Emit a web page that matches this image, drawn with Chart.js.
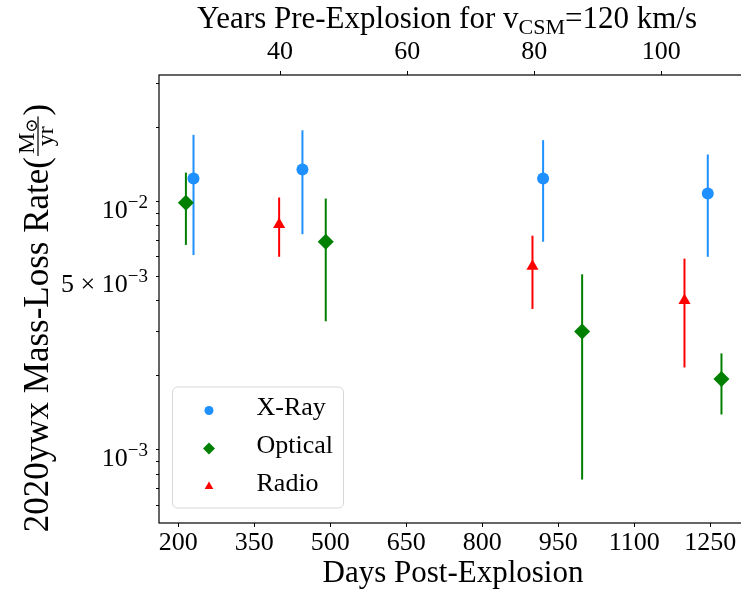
<!DOCTYPE html>
<html>
<head>
<meta charset="utf-8">
<script src="https://cdn.jsdelivr.net/npm/chart.js@4.4.1/dist/chart.umd.min.js"></script>
<style>
  html, body { margin: 0; padding: 0; background: #fff; overflow: hidden; }
  #wrap { width: 741px; height: 593px; overflow: hidden; }
</style>
</head>
<body>
<div id="wrap"><canvas id="massLoss" width="760" height="593"></canvas></div>
<script>
// 2020ywx mass-loss rate estimates (Msun/yr) with error-bar ends
const xrayDays = [230, 445, 920, 1245];
const xrayRate = [0.0124, 0.0135, 0.0124, 0.0108];
const xrayLow = [0.0061, 0.0074, 0.0069, 0.0060];
const xrayHigh = [0.0186, 0.0194, 0.0177, 0.0155];

const opticalDays = [215, 491, 997, 1272];
const opticalRate = [0.0099, 0.0069, 0.0030, 0.00193];
const opticalLow = [0.0067, 0.0033, 0.00076, 0.00139];
const opticalHigh = [0.0131, 0.0103, 0.0051, 0.00245];

const radioDays = [399, 899, 1199];
const radioRate = [0.0081, 0.0055, 0.0040];
const radioLow = [0.0060, 0.0037, 0.00215];
const radioHigh = [0.0104, 0.0073, 0.0059];

const dayTicks = [200, 350, 500, 650, 800, 950, 1100, 1250];
const yearTicks = [40, 60, 80, 100];
const rateTicks = [0.0006, 0.0007, 0.0008, 0.0009, 0.001, 0.002, 0.003, 0.004, 0.005,
  0.006, 0.007, 0.008, 0.009, 0.01, 0.02, 0.03];
const rateLabels = [[0.01, '10', '\u22122'], [0.005, '5 \u00d7 10', '\u22123'], [0.001, '10', '\u22123']];

const serif = "'Liberation Serif', 'DejaVu Serif', serif";

function points(days, rate, low, high) {
  return days.map((d, i) => ({ x: d, y: rate[i], yMin: low[i], yMax: high[i] }));
}

// vertical error bars, under the markers
const errorBars = {
  id: "errorBars",
  beforeDatasetsDraw(chart) {
    const { ctx, scales: { x, y } } = chart;
    ctx.save();
    ctx.lineWidth = 2;
    chart.data.datasets.forEach((ds) => {
      ctx.strokeStyle = ds.backgroundColor;
      ds.data.forEach((p) => {
        const px = x.getPixelForValue(p.x);
        ctx.beginPath();
        ctx.moveTo(px, y.getPixelForValue(p.yMax));
        ctx.lineTo(px, y.getPixelForValue(p.yMin));
        ctx.stroke();
      });
    });
    ctx.restore();
  },
};

// frame, log tick labels, titles with sub/superscripts, legend box
const decorations = {
  id: "decorations",
  afterDraw(chart) {
    const { ctx, chartArea, scales: { y } } = chart;
    ctx.save();
    ctx.strokeStyle = "#000";
    ctx.lineWidth = 1.2;
    ctx.strokeRect(chartArea.left, chartArea.top, chartArea.right - chartArea.left, chartArea.bottom - chartArea.top);

    ctx.fillStyle = "#000";
    ctx.textBaseline = "alphabetic";
    ctx.textAlign = "left";

    // y tick labels like 10^-2
    rateLabels.forEach(([v, base, exp]) => {
      const py = y.getPixelForValue(v);
      ctx.font = `19px ${serif}`;
      const we = ctx.measureText(exp).width;
      ctx.font = `26px ${serif}`;
      const wb = ctx.measureText(base).width;
      const right = chartArea.left - 11;
      ctx.fillText(base, right - we - wb, py + 16);
      ctx.font = `19px ${serif}`;
      ctx.fillText(exp, right - we, py + 6);
    });

    // top title
    const parts = [["Years Pre-Explosion for v", 31, 0], ["CSM", 22, 6], ["=120 km/s", 31, 0]];
    let total = 0;
    parts.forEach((p) => { ctx.font = `${p[1]}px ${serif}`; total += ctx.measureText(p[0]).width; });
    let tx = (chartArea.left + chartArea.right) / 2 - 6 - total / 2;
    parts.forEach((p) => {
      ctx.font = `${p[1]}px ${serif}`;
      ctx.fillText(p[0], tx, 28 + p[2]);
      tx += ctx.measureText(p[0]).width;
    });

    // y title with fraction Msun / yr
    const big = 35, small = 24;
    ctx.font = `${big}px ${serif}`;
    const lead = "2020ywx Mass-Loss Rate(";
    const wLead = ctx.measureText(lead).width;
    const wClose = ctx.measureText(")").width;
    ctx.font = `${small}px ${serif}`;
    const wM = ctx.measureText("M").width;
    const wYr = ctx.measureText("yr").width;
    ctx.font = `${Math.round(small * 0.7)}px ${serif}`;
    const wSun = ctx.measureText("\u2299").width;
    const wFrac = Math.max(wM + wSun, wYr) + 6;
    const all = wLead + wFrac + wClose;
    ctx.translate(48, 318);
    ctx.rotate(-Math.PI / 2);
    let x = -all / 2;
    ctx.font = `${big}px ${serif}`;
    ctx.fillText(lead, x, 0);
    x += wLead;
    const axisY = -10;
    ctx.fillRect(x + 1, axisY - 0.6, wFrac - 2, 1.2);
    const numX = x + (wFrac - wM - wSun) / 2;
    ctx.font = `${small}px ${serif}`;
    ctx.fillText("M", numX, axisY - 4);
    ctx.font = `${Math.round(small * 0.7)}px ${serif}`;
    ctx.fillText("\u2299", numX + wM, axisY - 1);
    ctx.font = `${small}px ${serif}`;
    ctx.fillText("yr", x + (wFrac - wYr) / 2, axisY + 15);
    x += wFrac;
    ctx.font = `${big}px ${serif}`;
    ctx.fillText(")", x, 0);
    ctx.restore();

    // legend
    ctx.save();
    const lx = chartArea.left + 13.5, lw = 171, lh = 121;
    const ly = chartArea.bottom - 15 - lh;
    ctx.beginPath();
    ctx.roundRect(lx, ly, lw, lh, 5);
    ctx.fillStyle = "rgba(255,255,255,0.8)";
    ctx.fill();
    ctx.strokeStyle = "#d6d6d6";
    ctx.lineWidth = 1;
    ctx.stroke();
    const sizes = [4.5, 6, 5];
    chart.data.datasets.forEach((ds, i) => {
      const rowY = ly + 23.5 + i * 38;
      ctx.fillStyle = ds.backgroundColor;
      Chart.helpers.drawPoint(ctx, { pointStyle: ds.pointStyle, radius: sizes[i], rotation: 0, borderWidth: 0 }, lx + 36.5, rowY);
      ctx.fillStyle = "#000";
      ctx.font = `26px ${serif}`;
      ctx.textBaseline = "middle";
      ctx.textAlign = "left";
      ctx.fillText(ds.label, lx + 84, rowY - 2);
    });
    ctx.restore();
  },
};

new Chart(document.getElementById("massLoss"), {
  type: "scatter",
  data: {
    datasets: [
      {
        label: "X-Ray",
        data: points(xrayDays, xrayRate, xrayLow, xrayHigh),
        backgroundColor: "#1E90FF",
        borderColor: "#1E90FF",
        pointStyle: "circle",
        pointRadius: 6,
        pointBorderWidth: 0,
      },
      {
        label: "Optical",
        data: points(opticalDays, opticalRate, opticalLow, opticalHigh),
        backgroundColor: "#008000",
        borderColor: "#008000",
        pointStyle: "rectRot",
        pointRadius: 8,
        pointBorderWidth: 0,
      },
      {
        label: "Radio",
        data: points(radioDays, radioRate, radioLow, radioHigh),
        backgroundColor: "#FF0000",
        borderColor: "#FF0000",
        pointStyle: "triangle",
        pointRadius: 7,
        pointBorderWidth: 0,
      },
    ],
  },
  options: {
    responsive: false,
    animation: false,
    devicePixelRatio: 1,
    layout: { padding: { left: 0, right: 13, top: 0, bottom: 0 } },
    plugins: { legend: { display: false }, tooltip: { enabled: false } },
    scales: {
      x: {
        type: "linear",
        position: "bottom",
        min: 161.9,
        max: 1322.4,
        afterBuildTicks: (s) => { s.ticks = dayTicks.map((v) => ({ value: v })); },
        afterFit: (s) => { s.height = 70; },
        ticks: {
          font: { family: serif, size: 26 },
          color: "#000",
          padding: 1,
          maxRotation: 0,
          autoSkip: false,
          callback: (v) => String(v),
        },
        grid: { drawOnChartArea: false, tickLength: 4, tickColor: "#000", tickWidth: 1 },
        border: { display: false },
        title: { display: true, text: "Days Post-Explosion", color: "#000", font: { family: serif, size: 31 }, padding: { top: 0, bottom: 1 } },
      },
      x2: {
        type: "linear",
        position: "top",
        min: 20.94,
        max: 113.5,
        afterBuildTicks: (s) => { s.ticks = yearTicks.map((v) => ({ value: v })); },
        afterFit: (s) => { s.height = 75; },
        ticks: {
          font: { family: serif, size: 26 },
          color: "#000",
          padding: 3,
          maxRotation: 0,
          autoSkip: false,
          callback: (v) => String(v),
        },
        grid: { drawOnChartArea: false, tickLength: 4, tickColor: "#000", tickWidth: 1 },
        border: { display: false },
      },
      y: {
        type: "logarithmic",
        min: 0.000508,
        max: 0.0324,
        afterBuildTicks: (s) => { s.ticks = rateTicks.map((v) => ({ value: v })); },
        afterFit: (s) => { s.width = 159; },
        ticks: { display: false },
        grid: { drawOnChartArea: false, tickLength: 3, tickColor: "#000", tickWidth: 1 },
        border: { display: false },
      },
    },
  },
  plugins: [errorBars, decorations],
});
</script>
</body>
</html>
